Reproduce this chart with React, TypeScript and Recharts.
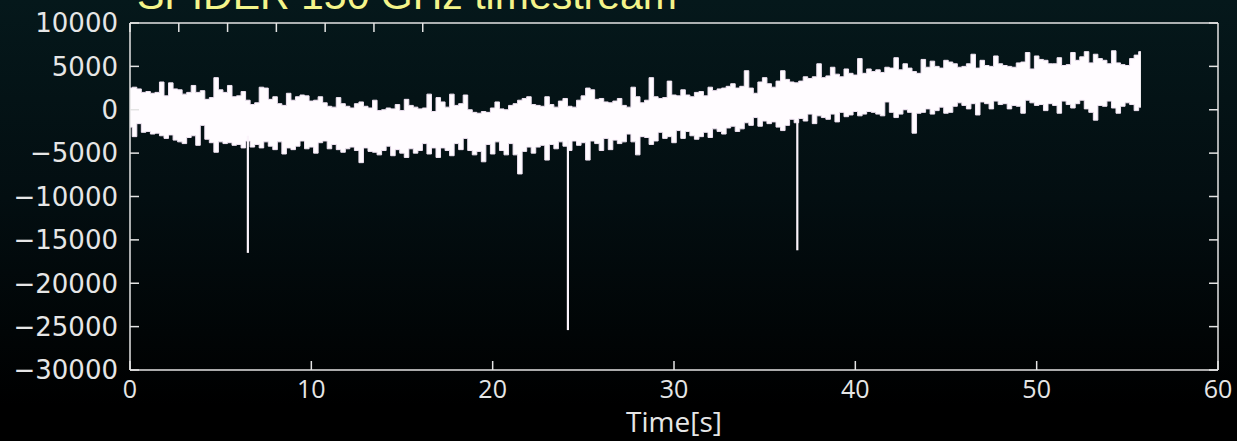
import { ComposedChart, Area, XAxis, YAxis, ReferenceLine, Label } from "recharts";

// Envelope of the detector timestream, sampled every 0.25 s (counts)
const SAMPLE_DT = 0.25;

const UPPER = [
  2500, 2600, 2400, 2000, 2100, 1900, 2000, 3200,
  1600, 3100, 2400, 2300, 1800, 2000, 2800, 2000,
  2200, 1200, 1400, 3700, 2300, 2000, 2800, 1500,
  1600, 2100, 1100, 600, 800, 2600, 2500, 1200,
  1500, 700, 500, 1900, 1100, 1500, 1700, 1600,
  1000, 1100, 1500, 800, 400, 300, 1400, 700,
  400, 200, 700, 900, 400, 200, 1100, -100,
  0, 200, 100, 600, -100, 1200, 500, 300,
  100, 200, 1800, -200, 1400, 900, 300, 1800,
  500, 700, 1700, 0, -300, -400, -200, -300,
  200, 900, 100, 0, 500, 700, 1100, 1300,
  1500, 600, 500, 400, 1500, 600, 300, 1000,
  1300, 400, 300, 1100, 1600, 2500, 2300, 1200,
  1300, 900, 800, 1000, 1300, 500, 300, 2600,
  1500, 800, 1100, 3700, 1500, 1300, 1400, 3300,
  1700, 1600, 2300, 1700, 1500, 2000, 2100, 1600,
  2600, 2200, 2400, 2500, 2700, 3000, 2500, 2700,
  4500, 2500, 1900, 3200, 3700, 3000, 2600, 3300,
  4500, 3500, 3200, 3100, 3300, 3800, 3600, 3800,
  5300, 3700, 3900, 4900, 4100, 3800, 4700, 4200,
  4000, 5900, 4200, 4700, 4400, 4600, 4300, 4900,
  4800, 6000, 4600, 5300, 4800, 4400, 4200, 5800,
  4900, 5600, 5000, 4800, 5700, 5500, 5300, 4900,
  5000, 5300, 6400, 4800, 5700, 5100, 5000, 6200,
  5300, 5100, 5000, 4900, 5400, 5500, 6600, 4700,
  6200, 5800, 5700, 5300, 5300, 6000, 5100, 5200,
  6600, 5700, 6100, 6700, 5400, 6400, 5900, 5700,
  5300, 6800, 5400, 5200, 5100, 5900, 6300, 6700,
];

const LOWER = [
  -2000, -3100, -1600, -2600, -2500, -2800, -2700, -3000,
  -3300, -2900, -3500, -3700, -3900, -3200, -3000, -4100,
  -1800, -3400, -3800, -4900, -3700, -3900, -3800, -4100,
  -4000, -4400, -3600, -4300, -4000, -4400, -3700, -4200,
  -4600, -3700, -5100, -4400, -4600, -4200, -3600, -4500,
  -4300, -5000, -3800, -3600, -4500, -4000, -4600, -4900,
  -4500, -4300, -4700, -6100, -4400, -4800, -4900, -5200,
  -4700, -4200, -5300, -4600, -5000, -5500, -4500, -5000,
  -4700, -3900, -5100, -4400, -5500, -4400, -4700, -5300,
  -3900, -4600, -3300, -4700, -5200, -4800, -6000, -4000,
  -5100, -3700, -4700, -5200, -3900, -5200, -7400, -4800,
  -4300, -5000, -4300, -4100, -5800, -4000, -4500, -3700,
  -4200, -4700, -3600, -4100, -3800, -5800, -3600, -3900,
  -4700, -3300, -4600, -3500, -3900, -3700, -2800, -3700,
  -5200, -3100, -3200, -4000, -3600, -2600, -3300, -3100,
  -3800, -2400, -3300, -2500, -3000, -3400, -3100, -2600,
  -3200, -2200, -2500, -2800, -2100, -1900, -2500, -2200,
  -1500, -1800, -900, -1900, -1300, -1600, -1400, -2000,
  -2400, -1800, -1100, -1500, -1000, -1300, -500, -1600,
  -700, -900, -1100, -500, -1400, -300, -800, -600,
  -200, -700, -500, -200, -300, -500, -700, 900,
  -300, -900, -500, 0, -300, -2700, -400, -300,
  100, -500, -100, 300, -400, -300, 400, 800,
  500, 100, 700, -600, 900, 700, 100, 1000,
  600, 700, 100, 500, 400, -400, 1100, 800,
  500, 600, -100, 700, 500, -400, 1000, 600,
  200, 700, 1100, 100, -300, -1200, 500, 400,
  1000, 200, -400, 400, 800, 600, -100, 300,
];

// Cosmic-ray style glitches
const GLITCH_T = [6.5, 24.15, 36.8];
const GLITCH_TOP = [-3000, -3500, -1200];
const GLITCH_MIN = [-16500, -25400, -16200];

const X_TICKS = [0, 10, 20, 30, 40, 50, 60];
const Y_TICKS = [10000, 5000, 0, -5000, -10000, -15000, -20000, -25000, -30000];

const data = UPPER.map((hi, i) => ({ t: i * SAMPLE_DT, band: [LOWER[i], hi] }));

// plot frame (chart margins are zero, axes sizes set below)
const LEFT = 130;
const RIGHT = 1218;
const TOP = 23;
const BOTTOM = 370;
const TICK_LEN = 9;

const AXIS = "#e4e4e4";
const LABEL = "#e6e6e6";
const fmtY = (v: number) => (v < 0 ? "\u2212" + Math.abs(v) : String(v));

// matplotlib-style ticks: pointing into the plot on all four sides
function LeftTick(props: any) {
  const { x, y, payload } = props;
  const c = payload.coordinate;
  return (
    <g>
      <line x1={LEFT} x2={LEFT + TICK_LEN} y1={c} y2={c} stroke={AXIS} strokeWidth={1.5} />
      <text x={x} y={y} dy="0.36em" textAnchor="end" fill={LABEL} fontSize={26} fontFamily="DejaVu Sans">
        {fmtY(payload.value)}
      </text>
    </g>
  );
}

function BottomTick(props: any) {
  const { x, y, payload } = props;
  const c = payload.coordinate;
  return (
    <g>
      <line x1={c} x2={c} y1={BOTTOM} y2={BOTTOM - TICK_LEN} stroke={AXIS} strokeWidth={1.5} />
      <text x={x} y={y} dy="0.71em" textAnchor="middle" fill={LABEL} fontSize={25} fontFamily="Open Sans">
        {payload.value}
      </text>
    </g>
  );
}

function TopTick(props: any) {
  const c = props.payload.coordinate;
  return <line x1={c} x2={c} y1={TOP} y2={TOP + TICK_LEN} stroke={AXIS} strokeWidth={1.5} />;
}

function RightTick(props: any) {
  const c = props.payload.coordinate;
  return <line x1={RIGHT} x2={RIGHT - TICK_LEN} y1={c} y2={c} stroke={AXIS} strokeWidth={1.5} />;
}

export default function App() {
  return (
    <div
      style={{
        position: "absolute",
        left: 0,
        top: 0,
        width: 1237,
        height: 441,
        overflow: "hidden",
        background: "linear-gradient(to bottom, #05181b 0%, #030e11 45%, #000000 92%)",
      }}
    >
      <ComposedChart width={1237} height={441} data={data} margin={{ top: 0, right: 0, bottom: 0, left: 0 }}>
        <XAxis
          dataKey="t"
          type="number"
          domain={[0, 60]}
          ticks={X_TICKS}
          interval={0}
          allowDataOverflow
          height={441 - BOTTOM}
          stroke={AXIS}
          strokeWidth={1.5}
          tickLine={false}
          tickSize={0}
          tickMargin={10}
          tick={BottomTick}
        >
          <Label
            value="Time[s]"
            position="insideBottom"
            offset={9}
            style={{ fill: LABEL, fontSize: 28, fontFamily: "Open Sans" }}
          />
        </XAxis>
        <XAxis
          xAxisId="top"
          orientation="top"
          type="number"
          domain={[0, 60]}
          ticks={X_TICKS}
          interval={0}
          allowDataOverflow
          height={TOP}
          stroke={AXIS}
          strokeWidth={1.5}
          tickLine={false}
          tick={TopTick}
        />
        <YAxis
          type="number"
          domain={[-30000, 10000]}
          ticks={Y_TICKS}
          interval={0}
          allowDataOverflow
          width={LEFT}
          stroke={AXIS}
          strokeWidth={1.5}
          tickLine={false}
          tickSize={0}
          tickMargin={12}
          tick={LeftTick}
        />
        <YAxis
          yAxisId="right"
          orientation="right"
          type="number"
          domain={[-30000, 10000]}
          ticks={Y_TICKS}
          interval={0}
          allowDataOverflow
          width={1237 - RIGHT}
          stroke={AXIS}
          strokeWidth={1.5}
          tickLine={false}
          tick={RightTick}
        />
        <Area
          type="step"
          dataKey="band"
          stroke="#f1e4f3"
          strokeWidth={1}
          fill="#fffcff"
          fillOpacity={1}
          isAnimationActive={false}
          dot={false}
          activeDot={false}
        />
        {GLITCH_T.map((t, i) => (
          <ReferenceLine
            key={t}
            segment={[
              { x: t, y: GLITCH_TOP[i] },
              { x: t, y: GLITCH_MIN[i] },
            ]}
            stroke="#fbf4fb"
            strokeWidth={2.2}
            ifOverflow="visible"
          />
        ))}
      </ComposedChart>
      <svg width={1237} height={40} style={{ position: "absolute", left: 0, top: 0 }}>
        <text x={137} y={9} fill="#f4f48a" fontSize={41} fontFamily="Liberation Sans">
          SPIDER 150 GHz timestream
        </text>
      </svg>
    </div>
  );
}
